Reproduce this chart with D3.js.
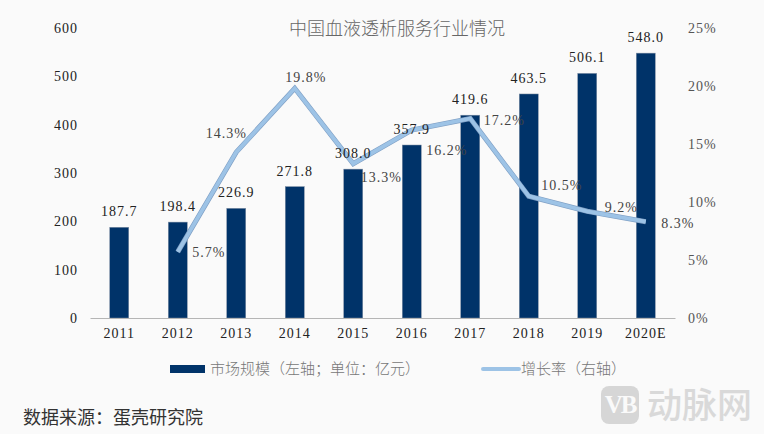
<!DOCTYPE html>
<html>
<head>
<meta charset="utf-8">
<script src="https://cdn.jsdelivr.net/npm/d3@7"></script>
<style>
html, body { margin: 0; padding: 0; background: #fafafa; overflow: hidden; }
text { font-family: "Liberation Serif", "Noto Sans CJK SC", serif; }
.cjk { font-family: "Noto Sans CJK SC", sans-serif; }
</style>
</head>
<body>
<div id="chart"></div>
<script>
// chart values
var years = ["2011", "2012", "2013", "2014", "2015", "2016", "2017", "2018", "2019", "2020E"];
var marketSize = [187.7, 198.4, 226.9, 271.8, 308.0, 357.9, 419.6, 463.5, 506.1, 548.0];
var growthYears = ["2012", "2013", "2014", "2015", "2016", "2017", "2018", "2019", "2020E"];
var growthRate = [5.7, 14.3, 19.8, 13.3, 16.2, 17.2, 10.5, 9.2, 8.3];
var leftTicks = [0, 100, 200, 300, 400, 500, 600];
var rightTicks = [0, 5, 10, 15, 20, 25];

var width = 764;
var height = 434;

var svg = d3.select("#chart").append("svg")
    .attr("width", width)
    .attr("height", height)
    .style("display", "block");

svg.append("rect").attr("width", width).attr("height", height).attr("fill", "#fafafa");

var x = d3.scaleBand().domain(years).range([90, 675]);
var yLeft = d3.scaleLinear().domain([0, 600]).range([318, 28]);
var yRight = d3.scaleLinear().domain([0, 25]).range([318, 28]);
var barWidth = 19;

function cx(d) { return x(d) + x.bandwidth() / 2; }

// title
svg.append("text").attr("class", "cjk")
    .attr("x", 397).attr("y", 35)
    .attr("text-anchor", "middle")
    .attr("font-size", 18).attr("font-weight", 300)
    .attr("fill", "#666")
    .text("中国血液透析服务行业情况");

// bars
svg.selectAll(".bar").data(marketSize).enter().append("rect")
    .attr("class", "bar")
    .attr("x", function(d, i) { return cx(years[i]) - barWidth / 2; })
    .attr("y", function(d) { return yLeft(d); })
    .attr("width", barWidth)
    .attr("height", function(d) { return 318 - yLeft(d); })
    .attr("fill", "#003369")
    .attr("stroke", "#7f8ea3").attr("stroke-width", 0.5);

// axis line
var xAxis = d3.axisBottom(x).tickSize(0).tickPadding(10);
var xG = svg.append("g").attr("transform", "translate(0,318)").call(xAxis);
xG.select(".domain").attr("stroke", "#b5b5b5").attr("stroke-width", 1.2);
xG.selectAll("text")
    .attr("font-family", "Liberation Serif").attr("font-size", 14)
    .attr("fill", "#222").style("letter-spacing", "1px");

var leftG = svg.append("g").attr("transform", "translate(78,0)")
    .call(d3.axisLeft(yLeft).tickValues(leftTicks).tickSize(0).tickPadding(0));
leftG.select(".domain").remove();
leftG.selectAll("text")
    .attr("font-family", "Liberation Serif").attr("font-size", 14)
    .attr("fill", "#222").style("letter-spacing", "1px");

var rightG = svg.append("g").attr("transform", "translate(688,0)")
    .call(d3.axisRight(yRight).tickValues(rightTicks).tickSize(0).tickPadding(0)
        .tickFormat(function(d) { return d + "%"; }));
rightG.select(".domain").remove();
rightG.selectAll("text")
    .attr("font-family", "Liberation Serif").attr("font-size", 14)
    .attr("fill", "#555").style("letter-spacing", "1px");

// growth line
var line = d3.line()
    .x(function(d, i) { return cx(growthYears[i]); })
    .y(function(d) { return yRight(d); });

svg.append("path").datum(growthRate)
    .attr("d", line)
    .attr("fill", "none")
    .attr("stroke", "#7f9fc4")
    .attr("stroke-width", 5);
svg.append("path").datum(growthRate)
    .attr("d", line)
    .attr("fill", "none")
    .attr("stroke", "#9dc3e6")
    .attr("stroke-width", 3.8);

// bar labels
svg.selectAll(".barLabel").data(marketSize).enter().append("text")
    .attr("class", "barLabel")
    .attr("x", function(d, i) { return cx(years[i]); })
    .attr("y", function(d) { return yLeft(d) - 11; })
    .attr("text-anchor", "middle")
    .attr("font-size", 14).attr("fill", "#222")
    .style("letter-spacing", "1px")
    .text(function(d) { return d.toFixed(1); });

// line labels, placed by hand around the line
var labelDx = [31, -10, 11, 28, 35, 34, 33, 34, 32];
var labelDy = [5, -14, -6, 18, 25, 7, -6, 1, 6];
svg.selectAll(".rateLabel").data(growthRate).enter().append("text")
    .attr("class", "rateLabel")
    .attr("x", function(d, i) { return cx(growthYears[i]) + labelDx[i]; })
    .attr("y", function(d, i) { return yRight(d) + labelDy[i]; })
    .attr("text-anchor", "middle")
    .attr("font-size", 14).attr("fill", "#444")
    .style("letter-spacing", "1px")
    .text(function(d) { return d.toFixed(1) + "%"; });

// legend
svg.append("rect").attr("x", 170).attr("y", 365).attr("width", 35).attr("height", 8).attr("fill", "#003369");
svg.append("text").attr("class", "cjk")
    .attr("x", 210).attr("y", 374)
    .attr("font-size", 15).attr("font-weight", 300).attr("fill", "#777")
    .text("市场规模（左轴；单位：亿元）");
svg.append("line").attr("x1", 483).attr("x2", 519).attr("y1", 369).attr("y2", 369)
    .attr("stroke", "#9dc3e6").attr("stroke-width", 4).attr("stroke-linecap", "round");
svg.append("text").attr("class", "cjk")
    .attr("x", 521).attr("y", 374)
    .attr("font-size", 15).attr("font-weight", 300).attr("fill", "#777")
    .text("增长率（右轴）");

// source note
svg.append("text").attr("class", "cjk")
    .attr("x", 23).attr("y", 424)
    .attr("font-size", 18).attr("fill", "#333")
    .text("数据来源：蛋壳研究院");

// watermark
svg.append("rect").attr("x", 601).attr("y", 386).attr("width", 38).attr("height", 38).attr("rx", 8)
    .attr("fill", "#d6d6d6");
svg.append("text")
    .attr("x", 620).attr("y", 413)
    .attr("text-anchor", "middle")
    .attr("font-family", "Liberation Serif").attr("font-weight", "bold")
    .attr("font-size", 25).attr("fill", "#fafafa")
    .style("letter-spacing", "-2px")
    .text("VB");
svg.append("text").attr("class", "cjk")
    .attr("x", 647).attr("y", 418)
    .attr("font-size", 35).attr("font-weight", 500).attr("fill", "#d9d9d9")
    .text("动脉网");
</script>
</body>
</html>
